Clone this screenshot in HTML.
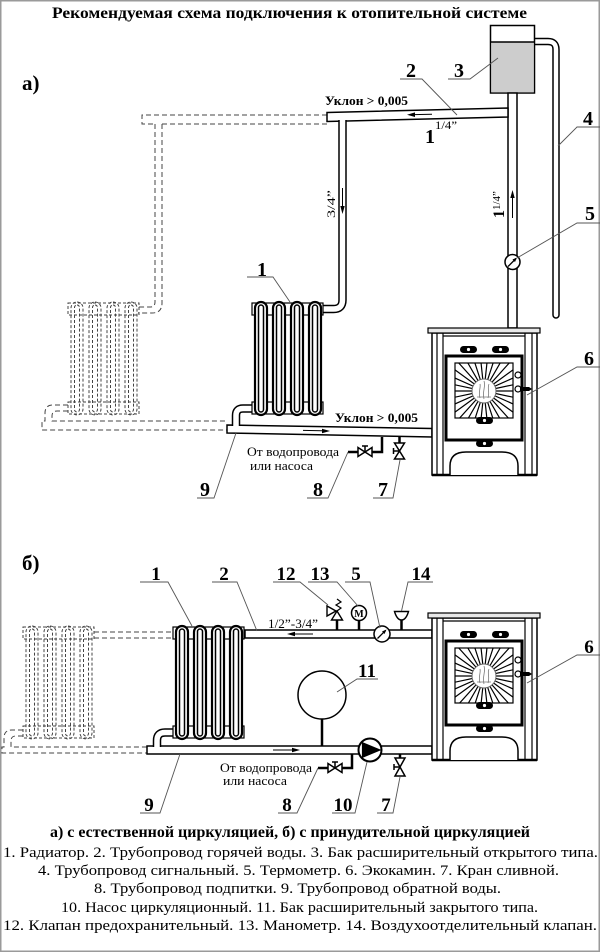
<!DOCTYPE html>
<html><head><meta charset="utf-8">
<style>
html,body{margin:0;padding:0;background:#fff;}
svg{display:block;}
</style></head><body>
<svg width="600" height="952" viewBox="0 0 600 952" xmlns="http://www.w3.org/2000/svg" xmlns:xlink="http://www.w3.org/1999/xlink" font-family="'Liberation Serif', serif">
<defs>
<clipPath id="gl"><rect x="455" y="363" width="58" height="55"/></clipPath>
<g id="radS" fill="#fff" stroke="#000">
<rect x="0" y="1" width="71" height="12" stroke-width="1.2"/>
<rect x="0" y="100" width="71" height="12" stroke-width="1.2"/>
<rect x="3" y="0" width="12" height="113" rx="6" stroke-width="2.2"/>
<rect x="6.5" y="3" width="5" height="107" rx="2.5" stroke-width="1.5"/>
<rect x="21" y="0" width="12" height="113" rx="6" stroke-width="2.2"/>
<rect x="24.5" y="3" width="5" height="107" rx="2.5" stroke-width="1.5"/>
<rect x="39" y="0" width="12" height="113" rx="6" stroke-width="2.2"/>
<rect x="42.5" y="3" width="5" height="107" rx="2.5" stroke-width="1.5"/>
<rect x="57" y="0" width="12" height="113" rx="6" stroke-width="2.2"/>
<rect x="60.5" y="3" width="5" height="107" rx="2.5" stroke-width="1.5"/>
</g>
<g id="radG" fill="none" stroke="#444" stroke-width="1" stroke-dasharray="3,2">
<rect x="0" y="1" width="71" height="12"/>
<rect x="0" y="100" width="71" height="12"/>
<rect x="3" y="0" width="12" height="113" rx="6"/>
<rect x="6.5" y="3" width="5" height="107" rx="2.5"/>
<rect x="21" y="0" width="12" height="113" rx="6"/>
<rect x="24.5" y="3" width="5" height="107" rx="2.5"/>
<rect x="39" y="0" width="12" height="113" rx="6"/>
<rect x="42.5" y="3" width="5" height="107" rx="2.5"/>
<rect x="57" y="0" width="12" height="113" rx="6"/>
<rect x="60.5" y="3" width="5" height="107" rx="2.5"/>
</g>
<g id="stove">
<rect x="432" y="333" width="105" height="142" fill="#fff" stroke="#000" stroke-width="1.5"/>
<rect x="428" y="328" width="112" height="5" fill="#e8e8e8" stroke="#000" stroke-width="1.2"/>
<g stroke="#000" stroke-width="1.2">
<line x1="437" y1="333" x2="437" y2="475"/>
<line x1="443" y1="333" x2="443" y2="475"/>
<line x1="525" y1="333" x2="525" y2="475"/>
<line x1="532" y1="333" x2="532" y2="475"/>
<line x1="443" y1="336" x2="525" y2="336"/>
</g>
<line x1="432" y1="475" x2="537" y2="475" stroke="#000" stroke-width="2.5"/>
<rect x="446" y="356" width="76" height="84" fill="#fff" stroke="#000" stroke-width="3"/>
<rect x="455" y="363" width="58" height="55" fill="#fff" stroke="#000" stroke-width="1.2"/>
<g clip-path="url(#gl)">
<path stroke="#000" stroke-width="1.2" d="M484,391L529,391M484,391L528,400.4M484,391L525.1,409.3M484,391L520.4,417.5M484,391L514.1,424.4M484,391L506.5,430M484,391L497.9,433.8M484,391L488.7,435.8M484,391L479.3,435.8M484,391L470.1,433.8M484,391L461.5,430M484,391L453.9,424.4M484,391L447.6,417.5M484,391L442.9,409.3M484,391L440,400.4M484,391L439,391M484,391L440,381.6M484,391L442.9,372.7M484,391L447.6,364.5M484,391L453.9,357.6M484,391L461.5,352M484,391L470.1,348.2M484,391L479.3,346.2M484,391L488.7,346.2M484,391L497.9,348.2M484,391L506.5,352M484,391L514.1,357.6M484,391L520.4,364.5M484,391L525.1,372.7M484,391L528,381.6"/>
</g>
<circle cx="484" cy="391" r="12" fill="#fff" stroke="#666" stroke-width="1"/>
<path d="M480,398 C478,392 481,388 480,384 M484,399 C482,391 486,387 484,381 M488,398 C490,392 487,388 489,384 M477,397 H491" stroke="#777" stroke-width="0.8" fill="none"/>
<g fill="#000">
<rect x="460" y="346" width="17" height="7" rx="3.5"/>
<rect x="492" y="346" width="17" height="7" rx="3.5"/>
<rect x="476" y="417" width="17" height="7" rx="3.5"/>
<rect x="476" y="440" width="17" height="7" rx="3.5"/>
</g>
<g fill="#fff">
<circle cx="468.5" cy="349.5" r="1.6"/>
<circle cx="500.5" cy="349.5" r="1.6"/>
<circle cx="484.5" cy="420.5" r="1.6"/>
<circle cx="484.5" cy="443.5" r="1.6"/>
</g>
<circle cx="518" cy="375" r="3" fill="#fff" stroke="#000" stroke-width="1.2"/>
<circle cx="518" cy="389" r="3" fill="#fff" stroke="#000" stroke-width="1.2"/>
<path d="M520,387 H529 L532,389 L529,391 H520 Z" fill="#000"/>
<path d="M450,475 V466 Q450,452 466,452 H502 Q518,452 518,466 V475" fill="#fff" stroke="#000" stroke-width="1.5"/>
</g>
</defs>

<rect x="0.75" y="0.75" width="598.5" height="950.5" fill="#fff" stroke="#9a9a9a" stroke-width="1.5"/>

<text x="52" y="18" font-size="16" font-weight="bold" textLength="475" lengthAdjust="spacingAndGlyphs">Рекомендуемая схема  подключения к отопительной системе</text>

<!-- ===== Diagram a ===== -->
<text x="22" y="90" font-size="21" font-weight="bold">а)</text>

<!-- dashed ghost piping a -->
<g fill="none" stroke="#444" stroke-width="1" stroke-dasharray="5,3">
<path d="M327,115 H142 V124 H155"/>
<path d="M327,124 H162"/>
<path d="M162,124 V303 Q162,313 152,313 H138"/>
<path d="M155,124 V302 Q155,307 150,307 H138"/>
<path d="M68,405 H53 Q45,405 45,413 V421 H42 V430 H227"/>
<path d="M68,411 H57 Q52,411 52,416 V421 H227"/>
</g>
<use xlink:href="#radG" href="#radG" x="68" y="302"/>

<!-- pipe 4 -->
<path d="M533,41.5 H548 Q556,41.5 556,49.5 V315" fill="none" stroke="#000" stroke-width="7.5" stroke-linecap="round"/>
<path d="M533,41.5 H548 Q556,41.5 556,49.5 V315" fill="none" stroke="#fff" stroke-width="4.5" stroke-linecap="round"/>

<!-- tank 3 -->
<rect x="490.5" y="25.5" width="44" height="67.5" fill="#fff" stroke="#000" stroke-width="1.5"/>
<rect x="491.25" y="42" width="42.5" height="50.25" fill="#cdcdcd"/>
<line x1="490.5" y1="42" x2="534.5" y2="42" stroke="#000" stroke-width="1.5"/>

<!-- riser -->
<rect x="508" y="93" width="9" height="235" fill="#fff" stroke="#000" stroke-width="1.5"/>
<!-- top pipe -->
<polygon points="327,112.5 508,108 508,117 327,121.5" fill="#fff" stroke="#000" stroke-width="1.5"/>
<!-- down pipe 3/4 -->
<path d="M342.5,120 V300 Q342.5,309 333.5,309 H322" fill="none" stroke="#000" stroke-width="8.5"/>
<path d="M342.5,116 V300 Q342.5,309 333.5,309 H323" fill="none" stroke="#fff" stroke-width="5.5"/>
<!-- return pipe 9 -->
<polygon points="227,425 432,428.5 432,437 227,433" fill="#fff" stroke="#000" stroke-width="1.5"/>
<path d="M252,408.5 H243 Q236,408.5 236,415.5 V426" fill="none" stroke="#000" stroke-width="8.5"/>
<path d="M253,408.5 H243 Q236,408.5 236,415.5 V428" fill="none" stroke="#fff" stroke-width="5.5"/>

<use xlink:href="#radS" href="#radS" x="252" y="302"/>
<use xlink:href="#stove" href="#stove"/>

<!-- arrows a -->
<g stroke="#000" stroke-width="1" fill="#000">
<path d="M432,114.2 L414,114.6" fill="none"/>
<polygon points="407,114.7 415,112.4 415,117" stroke="none"/>
<path d="M342.5,188 V206" fill="none"/>
<polygon points="342.5,214 340.3,206 344.7,206" stroke="none"/>
<path d="M512.5,218 V198" fill="none"/>
<polygon points="512.5,190 510.3,198 514.7,198" stroke="none"/>
<path d="M303,430.4 L322,430.8" fill="none"/>
<polygon points="330,431 322,428.7 322,433.3" stroke="none"/>
</g>

<!-- thermometer a -->
<circle cx="512.5" cy="262" r="7.5" fill="#fff" stroke="#000" stroke-width="1.5"/>
<path d="M508,266.5 L516,258.5" stroke="#000" stroke-width="1.3"/>
<polygon points="517,257.5 512.5,259.5 515,262" fill="#000"/>

<!-- valves a -->
<path d="M348,452 H358 M372,452 H382 V437" stroke="#000" stroke-width="2.5" fill="none"/>
<path d="M358,447.5 L372,456.5 V447.5 L358,456.5 Z" fill="#fff" stroke="#000" stroke-width="1.5"/>
<path d="M365,452 V446 M362,446 H368" stroke="#000" stroke-width="1.5"/>
<path d="M399.5,437 V443" stroke="#000" stroke-width="2.5"/>
<path d="M394.5,443 H404.5 L394.5,459 H404.5 Z" fill="#fff" stroke="#000" stroke-width="1.5"/>
<path d="M399.5,451 H393.5 M393.5,448 V454" stroke="#000" stroke-width="1.5"/>

<!-- texts a -->
<text x="325" y="105" font-size="13" font-weight="bold" textLength="83" lengthAdjust="spacingAndGlyphs">Уклон &gt; 0,005</text>
<text x="335" y="422" font-size="13" font-weight="bold" textLength="83" lengthAdjust="spacingAndGlyphs">Уклон &gt; 0,005</text>
<text x="425" y="143" font-size="20" font-weight="bold">1</text>
<text x="435" y="129" font-size="12" textLength="22" lengthAdjust="spacingAndGlyphs">1/4”</text>
<text transform="translate(335,218) rotate(-90)" font-size="12" textLength="28" lengthAdjust="spacingAndGlyphs">3/4”</text>
<text transform="translate(504,218) rotate(-90)"><tspan font-size="16" font-weight="bold">1</tspan><tspan font-size="11" dy="-4">1/4”</tspan></text>
<text x="247" y="456" font-size="13" textLength="92" lengthAdjust="spacingAndGlyphs">От водопровода</text>
<text x="250" y="470" font-size="13" textLength="63" lengthAdjust="spacingAndGlyphs">или насоса</text>

<!-- labels a -->
<g font-size="20" font-weight="bold" text-anchor="middle">
<text x="262" y="276">1</text>
<text x="411" y="77">2</text>
<text x="459" y="77">3</text>
<text x="588" y="125">4</text>
<text x="590" y="220">5</text>
<text x="589" y="365">6</text>
<text x="205" y="496">9</text>
<text x="318" y="496">8</text>
<text x="383" y="496">7</text>
</g>
<g stroke="#555" stroke-width="0.9" fill="none">
<path d="M247,277 H273 L290,302"/>
<path d="M400,79 H422 L457,115"/>
<path d="M448,79 H470 L498,58"/>
<path d="M600,127 H577 L558,146"/>
<path d="M600,223 H577 L517,258"/>
<path d="M600,367 H577 L527,395"/>
<path d="M197,498 H214 L236,433"/>
<path d="M307,498 H328 L348,452"/>
<path d="M373,498 H393 L400,460"/>
</g>

<!-- ===== Diagram b ===== -->
<text x="22" y="570" font-size="21" font-weight="bold">б)</text>

<g fill="none" stroke="#444" stroke-width="1" stroke-dasharray="5,3">
<path d="M94,632 H173"/>
<path d="M94,638 H173"/>
<path d="M23,730 H12 Q4,730 4,738 V747 H2 V753 H147"/>
<path d="M23,736 H16 Q11,736 11,741 V747 H147"/>
</g>
<use xlink:href="#radG" href="#radG" x="23" y="626"/>

<rect x="245" y="630" width="187" height="8" fill="#fff" stroke="#000" stroke-width="1.5"/>
<rect x="147" y="746" width="285" height="8" fill="#fff" stroke="#000" stroke-width="1.5"/>
<path d="M173,732.5 H165 Q157,732.5 157,740.5 V747" fill="none" stroke="#000" stroke-width="8.5"/>
<path d="M174,732.5 H165 Q157,732.5 157,740.5 V749" fill="none" stroke="#fff" stroke-width="5.5"/>

<use xlink:href="#radS" href="#radS" x="173" y="626"/>
<use xlink:href="#stove" href="#stove" y="285"/>

<!-- stems -->
<g stroke="#000" stroke-width="2.5">
<line x1="322" y1="719" x2="322" y2="746"/>
<line x1="337" y1="630" x2="337" y2="619"/>
<line x1="359" y1="630" x2="359" y2="620"/>
<line x1="401.5" y1="630" x2="401.5" y2="616"/>
</g>
<!-- tank 11 -->
<circle cx="322" cy="695" r="24" fill="#fff" stroke="#000" stroke-width="1.5"/>
<!-- safety valve 12 -->
<path d="M327,606 L327,616 L336,611 Z" fill="#fff" stroke="#000" stroke-width="1.4"/>
<path d="M337,611 L331.5,620 H342.5 Z" fill="#fff" stroke="#000" stroke-width="1.4"/>
<path d="M337,611 L341,608 L336,605 L341,602 L337,599" fill="none" stroke="#000" stroke-width="1.2"/>
<!-- manometer 13 -->
<circle cx="359" cy="613" r="7.5" fill="#fff" stroke="#000" stroke-width="1.5"/>
<text x="359" y="617" font-size="10" font-weight="bold" text-anchor="middle">M</text>
<!-- air valve 14 -->
<path d="M394.5,611.5 H408.5 Q406,620 401.5,620 Q397,620 394.5,611.5 Z" fill="#fff" stroke="#000" stroke-width="1.4"/>
<!-- thermometer 5 b -->
<circle cx="382" cy="634" r="8" fill="#fff" stroke="#000" stroke-width="1.5"/>
<path d="M377.5,638.5 L385.5,630.5" stroke="#000" stroke-width="1.3"/>
<polygon points="386.5,629.5 382,631.5 384.5,634" fill="#000"/>
<!-- pump 10 -->
<circle cx="370" cy="750" r="11.5" fill="#fff" stroke="#000" stroke-width="2"/>
<polygon points="361.9,741.9 361.9,758.1 381.5,750" fill="#000"/>

<!-- valves b -->
<path d="M318,768 H328 M342,768 H352 V754" stroke="#000" stroke-width="2.5" fill="none"/>
<path d="M328,763.5 L342,772.5 V763.5 L328,772.5 Z" fill="#fff" stroke="#000" stroke-width="1.5"/>
<path d="M335,768 V762 M332,762 H338" stroke="#000" stroke-width="1.5"/>
<path d="M400,754 V758" stroke="#000" stroke-width="2.5"/>
<path d="M395,758 H405 L395,776 H405 Z" fill="#fff" stroke="#000" stroke-width="1.5"/>
<path d="M400,767 H394 M394,764 V770" stroke="#000" stroke-width="1.5"/>

<!-- arrows b -->
<g stroke="#000" stroke-width="1" fill="#000">
<path d="M313,634 H294" fill="none"/>
<polygon points="287,634 295,631.8 295,636.2" stroke="none"/>
<path d="M273,750 H292" fill="none"/>
<polygon points="300,750 292,747.8 292,752.2" stroke="none"/>
</g>

<text x="268" y="628" font-size="13" textLength="50" lengthAdjust="spacingAndGlyphs">1/2”-3/4”</text>
<text x="220" y="772" font-size="13" textLength="92" lengthAdjust="spacingAndGlyphs">От водопровода</text>
<text x="223" y="785" font-size="13" textLength="64" lengthAdjust="spacingAndGlyphs">или насоса</text>

<g font-size="19" font-weight="bold" text-anchor="middle">
<text x="156" y="580">1</text>
<text x="224" y="580">2</text>
<text x="286" y="580">12</text>
<text x="320" y="580">13</text>
<text x="356" y="580">5</text>
<text x="421" y="580">14</text>
<text x="367" y="677">11</text>
<text x="589" y="653">6</text>
<text x="149" y="811">9</text>
<text x="287" y="811">8</text>
<text x="343" y="811">10</text>
<text x="386" y="811">7</text>
</g>
<g stroke="#555" stroke-width="0.9" fill="none">
<path d="M140,582 H168 L192,626"/>
<path d="M212,582 H237 L257,631"/>
<path d="M273,582 H300 L328,605"/>
<path d="M308,582 H337 L358,606"/>
<path d="M345,582 H370 L380,628"/>
<path d="M433,582 H408 L401.5,611"/>
<path d="M378,679 H357 L337,692"/>
<path d="M600,655 H577 L527,683"/>
<path d="M140,813 H160 L180,754"/>
<path d="M278,813 H297 L318,768"/>
<path d="M332,813 H355 L367,762"/>
<path d="M377,813 H393 L400,777"/>
</g>

<!-- captions -->
<text x="50" y="837" font-size="16" font-weight="bold" textLength="480" lengthAdjust="spacingAndGlyphs">а) с естественной циркуляцией,   б) с принудительной циркуляцией</text>
<g font-size="15">
<text x="3" y="857" textLength="595" lengthAdjust="spacingAndGlyphs">1. Радиатор.  2. Трубопровод горячей воды.  3. Бак расширительный открытого типа.</text>
<text x="38" y="875" textLength="521" lengthAdjust="spacingAndGlyphs">4. Трубопровод сигнальный.  5. Термометр.  6. Экокамин.  7. Кран сливной.</text>
<text x="94" y="893" textLength="407" lengthAdjust="spacingAndGlyphs">8. Трубопровод подпитки.  9. Трубопровод обратной воды.</text>
<text x="61" y="912" textLength="477" lengthAdjust="spacingAndGlyphs">10. Насос циркуляционный. 11. Бак расширительный закрытого типа.</text>
<text x="3" y="930" textLength="594" lengthAdjust="spacingAndGlyphs">12. Клапан предохранительный.  13. Манометр.  14. Воздухоотделительный клапан.</text>
</g>
</svg>
</body></html>
